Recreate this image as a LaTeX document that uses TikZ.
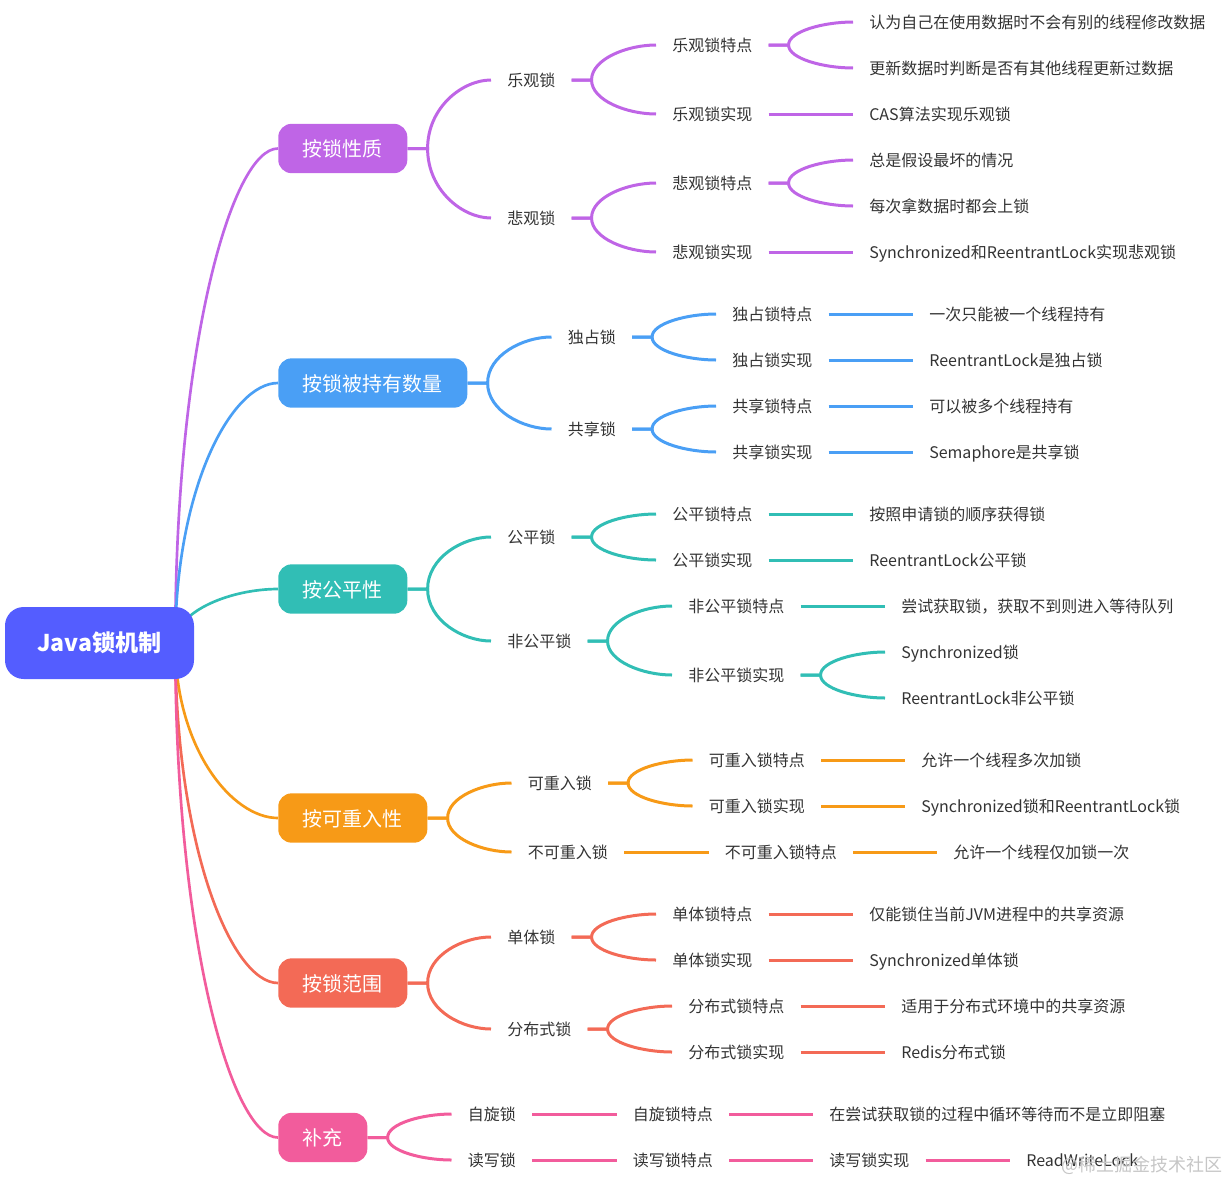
\documentclass[tikz,border=0pt]{standalone}
\usepackage{fontspec}
\setmainfont{Noto Sans CJK SC}
\usetikzlibrary{calc,backgrounds}
\definecolor{rootblue}{HTML}{545DFF}
\definecolor{lockpurple}{HTML}{BF65E6}
\definecolor{lockblue}{HTML}{4A9FF5}
\definecolor{lockteal}{HTML}{31BEB5}
\definecolor{lockorange}{HTML}{F79A17}
\definecolor{lockred}{HTML}{F36A56}
\definecolor{lockpink}{HTML}{F25C9C}
\definecolor{leafgray}{HTML}{333333}
\tikzset{
  rootnode/.style={fill=rootblue,text=white,font=\fontsize{17.3}{20}\selectfont\bfseries,rounded corners=14pt,minimum width=141.75pt,minimum height=54pt,inner sep=0pt,text height=14pt,text depth=1pt},
  catnode/.style={text=white,font=\fontsize{15}{18}\selectfont,rounded corners=10pt,minimum height=37pt,inner xsep=18.4pt,inner ysep=0pt,text height=13.5pt,text depth=1pt,anchor=west},
  leaf/.style={text=leafgray,font=\fontsize{12}{14}\selectfont,inner xsep=12pt,inner ysep=0pt,text height=10pt,text depth=1pt,anchor=west},
  wire/.style={line width=2.25pt},
  hubwire/.style={line width=2pt},
  branch/.style={to path={let \p1=(\tikztostart),\p2=(\tikztotarget) in .. controls (\x1,{\y1+.6*(\y2-\y1)}) and ({\x1+.55*(\x2-\x1)},\y2) .. (\p2)}}
}
\begin{document}
\begin{tikzpicture}[x=0.75pt,y=-0.75pt]
    \useasboundingbox (0,0) rectangle (1227,1182);
    \node[rootnode](root) at (99.5,643){Java锁机制};
    \coordinate(hub) at ([xshift=-14.25pt]root.east);

    \node[catnode,fill=lockpurple](nature) at (278,148.5){按锁性质};
    \node[leaf](opt) at (491,80){乐观锁};
    \node[leaf](optA) at (656,45){乐观锁特点};
    \node[leaf](optA1) at (853,22){认为自己在使用数据时不会有别的线程修改数据};
    \node[leaf](optA2) at (853,68){更新数据时判断是否有其他线程更新过数据};
    \node[leaf](optB) at (656,114){乐观锁实现};
    \node[leaf](optB1) at (853,114){CAS算法实现乐观锁};
    \node[leaf](pes) at (491,218){悲观锁};
    \node[leaf](pesA) at (656,183){悲观锁特点};
    \node[leaf](pesA1) at (853,160){总是假设最坏的情况};
    \node[leaf](pesA2) at (853,206){每次拿数据时都会上锁};
    \node[leaf](pesB) at (656,252){悲观锁实现};
    \node[leaf](pesB1) at (853,252){Synchronized和ReentrantLock实现悲观锁};

    \node[catnode,fill=lockblue](holder) at (278,383){按锁被持有数量};
    \node[leaf](exc) at (551.5,337){独占锁};
    \node[leaf](excA) at (716,314){独占锁特点};
    \node[leaf](excA1) at (913,314){一次只能被一个线程持有};
    \node[leaf](excB) at (716,360){独占锁实现};
    \node[leaf](excB1) at (913,360){ReentrantLock是独占锁};
    \node[leaf](sha) at (551.5,429){共享锁};
    \node[leaf](shaA) at (716,406){共享锁特点};
    \node[leaf](shaA1) at (913,406){可以被多个线程持有};
    \node[leaf](shaB) at (716,452){共享锁实现};
    \node[leaf](shaB1) at (913,452){Semaphore是共享锁};

    \node[catnode,fill=lockteal](fair) at (278,589){按公平性};
    \node[leaf](fai) at (491,537){公平锁};
    \node[leaf](faiA) at (656,514){公平锁特点};
    \node[leaf](faiA1) at (853,514){按照申请锁的顺序获得锁};
    \node[leaf](faiB) at (656,560){公平锁实现};
    \node[leaf](faiB1) at (853,560){ReentrantLock公平锁};
    \node[leaf](unf) at (491,641){非公平锁};
    \node[leaf](unfA) at (672,606){非公平锁特点};
    \node[leaf](unfA1) at (885,606){尝试获取锁，获取不到则进入等待队列};
    \node[leaf](unfB) at (672,675){非公平锁实现};
    \node[leaf](unfB1) at (885,652){Synchronized锁};
    \node[leaf](unfB2) at (885,698){ReentrantLock非公平锁};

    \node[catnode,fill=lockorange](reentry) at (278,818){按可重入性};
    \node[leaf](ree) at (511.5,783){可重入锁};
    \node[leaf](reeA) at (692.5,760){可重入锁特点};
    \node[leaf](reeA1) at (905,760){允许一个线程多次加锁};
    \node[leaf](reeB) at (692.5,806){可重入锁实现};
    \node[leaf](reeB1) at (905,806){Synchronized锁和ReentrantLock锁};
    \node[leaf](non) at (511.5,852){不可重入锁};
    \node[leaf](nonA) at (708.5,852){不可重入锁特点};
    \node[leaf](nonA1) at (937,852){允许一个线程仅加锁一次};

    \node[catnode,fill=lockred](range) at (278,983){按锁范围};
    \node[leaf](sin) at (491,937){单体锁};
    \node[leaf](sinA) at (656,914){单体锁特点};
    \node[leaf](sinA1) at (853,914){仅能锁住当前JVM进程中的共享资源};
    \node[leaf](sinB) at (656,960){单体锁实现};
    \node[leaf](sinB1) at (853,960){Synchronized单体锁};
    \node[leaf](dis) at (491,1029){分布式锁};
    \node[leaf](disA) at (672,1006){分布式锁特点};
    \node[leaf](disA1) at (885,1006){适用于分布式环境中的共享资源};
    \node[leaf](disB) at (672,1052){分布式锁实现};
    \node[leaf](disB1) at (885,1052){Redis分布式锁};

    \node[catnode,fill=lockpink](extra) at (278,1137.5){补充};
    \node[leaf](spi) at (451.5,1114){自旋锁};
    \node[leaf](spiA) at (616.5,1114){自旋锁特点};
    \node[leaf](spiA1) at (813,1114){在尝试获取锁的过程中循环等待而不是立即阻塞};
    \node[leaf](rw) at (451.5,1160){读写锁};
    \node[leaf](rwA) at (616.5,1160){读写锁特点};
    \node[leaf](rwB) at (813,1160){读写锁实现};
    \node[leaf](rwB1) at (1010,1160){ReadWriteLock};

    \node[text=gray!45,font=\fontsize{13.5}{16}\selectfont,inner sep=0pt](mark) at (1142,1165){@稀土掘金技术社区};

    \begin{scope}[on background layer]
      \draw[hubwire,lockpurple] (hub) to[branch] (nature.west);
      \draw[hubwire,lockblue] (hub) to[branch] (holder.west);
      \draw[hubwire,lockteal] (hub) to[branch] (fair.west);
      \draw[hubwire,lockorange] (hub) to[branch] (reentry.west);
      \draw[hubwire,lockred] (hub) to[branch] (range.west);
      \draw[hubwire,lockpink] (hub) to[branch] (extra.west);
    \end{scope}

    \draw[wire,lockpurple] (nature.east) -- ++(20,0) to[branch] (opt.west);
    \draw[wire,lockpurple] (nature.east) -- ++(20,0) to[branch] (pes.west);
    \draw[wire,lockpurple] (opt.east) -- ++(20,0) to[branch] (optA.west);
    \draw[wire,lockpurple] (opt.east) -- ++(20,0) to[branch] (optB.west);
    \draw[wire,lockpurple] (optA.east) -- ++(20,0) to[branch] (optA1.west);
    \draw[wire,lockpurple] (optA.east) -- ++(20,0) to[branch] (optA2.west);
    \draw[wire,lockpurple] (optB.east)--(optB1.west);
    \draw[wire,lockpurple] (pes.east) -- ++(20,0) to[branch] (pesA.west);
    \draw[wire,lockpurple] (pes.east) -- ++(20,0) to[branch] (pesB.west);
    \draw[wire,lockpurple] (pesA.east) -- ++(20,0) to[branch] (pesA1.west);
    \draw[wire,lockpurple] (pesA.east) -- ++(20,0) to[branch] (pesA2.west);
    \draw[wire,lockpurple] (pesB.east)--(pesB1.west);

    \draw[wire,lockblue] (holder.east) -- ++(20,0) to[branch] (exc.west);
    \draw[wire,lockblue] (holder.east) -- ++(20,0) to[branch] (sha.west);
    \draw[wire,lockblue] (exc.east) -- ++(20,0) to[branch] (excA.west);
    \draw[wire,lockblue] (exc.east) -- ++(20,0) to[branch] (excB.west);
    \draw[wire,lockblue] (excA.east)--(excA1.west);
    \draw[wire,lockblue] (excB.east)--(excB1.west);
    \draw[wire,lockblue] (sha.east) -- ++(20,0) to[branch] (shaA.west);
    \draw[wire,lockblue] (sha.east) -- ++(20,0) to[branch] (shaB.west);
    \draw[wire,lockblue] (shaA.east)--(shaA1.west);
    \draw[wire,lockblue] (shaB.east)--(shaB1.west);

    \draw[wire,lockteal] (fair.east) -- ++(20,0) to[branch] (fai.west);
    \draw[wire,lockteal] (fair.east) -- ++(20,0) to[branch] (unf.west);
    \draw[wire,lockteal] (fai.east) -- ++(20,0) to[branch] (faiA.west);
    \draw[wire,lockteal] (fai.east) -- ++(20,0) to[branch] (faiB.west);
    \draw[wire,lockteal] (faiA.east)--(faiA1.west);
    \draw[wire,lockteal] (faiB.east)--(faiB1.west);
    \draw[wire,lockteal] (unf.east) -- ++(20,0) to[branch] (unfA.west);
    \draw[wire,lockteal] (unf.east) -- ++(20,0) to[branch] (unfB.west);
    \draw[wire,lockteal] (unfA.east)--(unfA1.west);
    \draw[wire,lockteal] (unfB.east) -- ++(20,0) to[branch] (unfB1.west);
    \draw[wire,lockteal] (unfB.east) -- ++(20,0) to[branch] (unfB2.west);

    \draw[wire,lockorange] (reentry.east) -- ++(20,0) to[branch] (ree.west);
    \draw[wire,lockorange] (reentry.east) -- ++(20,0) to[branch] (non.west);
    \draw[wire,lockorange] (ree.east) -- ++(20,0) to[branch] (reeA.west);
    \draw[wire,lockorange] (ree.east) -- ++(20,0) to[branch] (reeB.west);
    \draw[wire,lockorange] (reeA.east)--(reeA1.west);
    \draw[wire,lockorange] (reeB.east)--(reeB1.west);
    \draw[wire,lockorange] (non.east)--(nonA.west);
    \draw[wire,lockorange] (nonA.east)--(nonA1.west);

    \draw[wire,lockred] (range.east) -- ++(20,0) to[branch] (sin.west);
    \draw[wire,lockred] (range.east) -- ++(20,0) to[branch] (dis.west);
    \draw[wire,lockred] (sin.east) -- ++(20,0) to[branch] (sinA.west);
    \draw[wire,lockred] (sin.east) -- ++(20,0) to[branch] (sinB.west);
    \draw[wire,lockred] (sinA.east)--(sinA1.west);
    \draw[wire,lockred] (sinB.east)--(sinB1.west);
    \draw[wire,lockred] (dis.east) -- ++(20,0) to[branch] (disA.west);
    \draw[wire,lockred] (dis.east) -- ++(20,0) to[branch] (disB.west);
    \draw[wire,lockred] (disA.east)--(disA1.west);
    \draw[wire,lockred] (disB.east)--(disB1.west);

    \draw[wire,lockpink] (extra.east) -- ++(20,0) to[branch] (spi.west);
    \draw[wire,lockpink] (extra.east) -- ++(20,0) to[branch] (rw.west);
    \draw[wire,lockpink] (spi.east)--(spiA.west);
    \draw[wire,lockpink] (spiA.east)--(spiA1.west);
    \draw[wire,lockpink] (rw.east)--(rwA.west);
    \draw[wire,lockpink] (rwA.east)--(rwB.west);
    \draw[wire,lockpink] (rwB.east)--(rwB1.west);
  \end{tikzpicture}
\end{document}
